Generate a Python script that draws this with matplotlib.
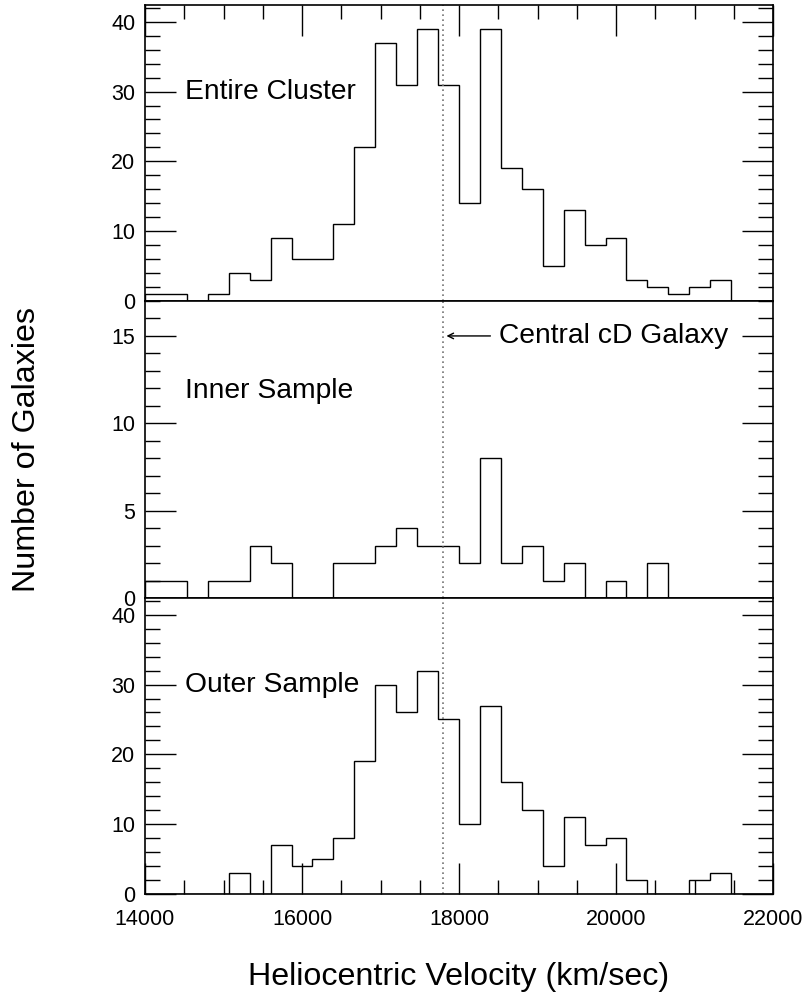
import numpy as np
import matplotlib
matplotlib.use("Agg")
import matplotlib.pyplot as plt
from matplotlib.ticker import MultipleLocator

plt.rcParams["font.family"] = ["Liberation Sans", "DejaVu Sans"]

# 30 bins of 266.67 km/s between 14000 and 22000
bin_edges = np.linspace(14000, 22000, 31)

entire = [1, 1, 0, 1, 4, 3, 9, 6, 6, 11, 22, 37, 31, 39, 31,
          14, 39, 19, 16, 5, 13, 8, 9, 3, 2, 1, 2, 3, 0, 0]
inner = [1, 1, 0, 1, 1, 3, 2, 0, 0, 2, 2, 3, 4, 3, 3,
         2, 8, 2, 3, 1, 2, 0, 1, 0, 2, 0, 0, 0, 0, 0]
outer = [0, 0, 0, 0, 3, 0, 7, 4, 5, 8, 19, 30, 26, 32, 25,
         10, 27, 16, 12, 4, 11, 7, 8, 2, 0, 0, 2, 3, 0, 0]

cd_velocity = 17790

panels = [
    ("Entire Cluster", entire, 42.4, 10, 2, 30),
    ("Inner Sample", inner, 17.0, 5, 1, 11.85),
    ("Outer Sample", outer, 42.4, 10, 2, 30),
]

fig = plt.figure(figsize=(8.06, 9.97), dpi=100)
W, H = 806.0, 997.0
left, right = 145 / W, 773 / W
tops = [5, 301, 598]
bots = [301, 598, 894]

axes = []
for i, (name, vals, ymax, major, minor, ty) in enumerate(panels):
    ax = fig.add_axes([left, 1 - bots[i] / H, right - left, (bots[i] - tops[i]) / H])
    ax.stairs(vals, bin_edges, baseline=0, fill=False, color="black", lw=1.0)
    ax.axvline(cd_velocity, color="0.45", ls=(0, (1, 2)), lw=1.2)
    ax.set_xlim(14000, 22000)
    ax.set_ylim(0, ymax)
    ax.yaxis.set_major_locator(MultipleLocator(major))
    ax.yaxis.set_minor_locator(MultipleLocator(minor))
    ax.xaxis.set_major_locator(MultipleLocator(2000))
    ax.xaxis.set_minor_locator(MultipleLocator(500))
    ax.tick_params(axis="y", which="both", direction="in", left=True, right=True,
                   labelsize=15.5, pad=7, width=1)
    ax.tick_params(axis="y", which="major", length=22)
    ax.tick_params(axis="y", which="minor", length=11)
    ax.tick_params(axis="x", which="major", direction="in", length=22, width=1)
    ax.tick_params(axis="x", which="minor", direction="in", length=10, width=1)
    if i == 0:
        ax.tick_params(axis="x", which="both", top=True, bottom=False, labelbottom=False)
    elif i == 1:
        ax.tick_params(axis="x", which="both", top=False, bottom=False, labelbottom=False)
    else:
        ax.tick_params(axis="x", which="both", top=False, bottom=True,
                       labelsize=15.5, pad=11)
    for s in ax.spines.values():
        s.set_linewidth(1.2)
    ax.text(14510, ty, name, fontsize=20.3, ha="left", va="center")
    axes.append(ax)

axes[1].annotate("", xy=(17840, 15), xytext=(18400, 15),
                 arrowprops=dict(arrowstyle="->", lw=1.0, color="black",
                                 shrinkA=0, shrinkB=0))
axes[1].text(18510, 15, "Central cD Galaxy", fontsize=20.3, ha="left", va="center")

fig.text(0.034, 0.549, "Number of Galaxies", rotation=90, fontsize=23.2,
         ha="center", va="center")
fig.text(0.569, 0.012, "Heliocentric Velocity (km/sec)", fontsize=23.2,
         ha="center", va="baseline")

fig.savefig("out.png", dpi=100)
